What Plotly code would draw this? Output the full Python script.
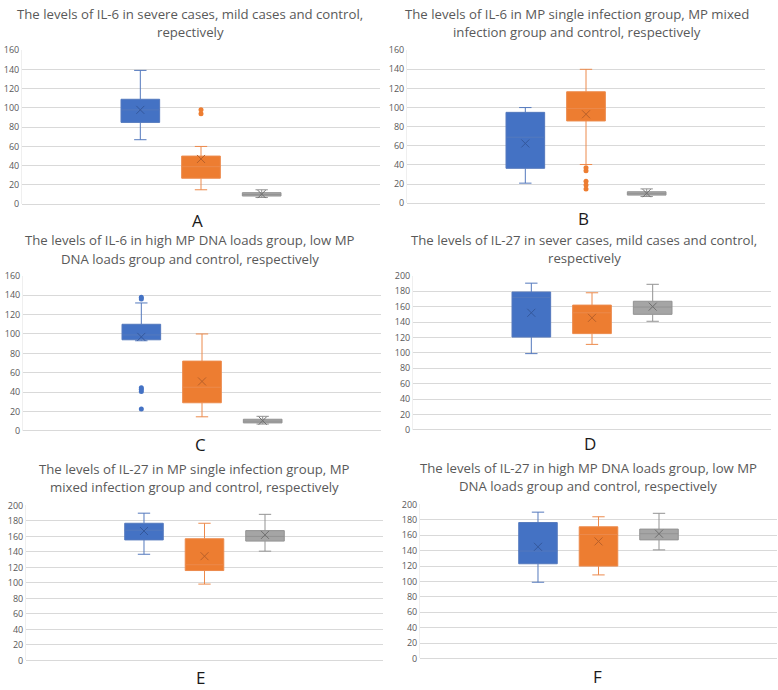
import plotly.graph_objects as go

# three groups in every panel: patients 1, patients 2, control
groups = ["group 1", "group 2", "control"]
fill_colors = ["#4472C4", "#ED7D31", "#A5A5A5"]
line_colors = ["#5479BD", "#EC8A4C", "#939393"]
mean_colors = ["#34589C", "#B8602A", "#6F6F6F"]

letters = ["A", "B", "C", "D", "E", "F"]
titles = [
    ["The levels of IL-6 in severe cases, mild cases and control,", "repectively"],
    ["The levels of IL-6 in MP single infection group, MP mixed", "infection group and control, respectively"],
    ["The levels of IL-6 in high MP DNA loads group, low MP", "DNA loads group and control, respectively"],
    ["The levels of IL-27 in sever cases, mild cases and control,", "respectively"],
    ["The levels of IL-27 in MP single infection group, MP", "mixed infection group and control, respectively"],
    ["The levels of IL-27 in high MP DNA loads group, low MP", "DNA loads group and control, respectively"],
]

# box statistics, one row per panel (A..F)
low = [[67, 15, 7], [21, 40.5, 7], [93, 14.5, 7],
       [99, 111, 141], [137, 98.5, 141], [99, 108.5, 141]]
q1 = [[85, 27, 8.5], [36.5, 86, 8.5], [94, 29, 8.2],
      [120.5, 125, 150], [155.5, 116, 154], [123, 120, 154]]
median = [[98, 39, 10], [69, 99, 10], [99, 45, 10],
          [172, 152, 159.5], [168, 123.5, 160], [139.5, 161, 162]]
q3 = [[109, 50, 12], [95, 116.5, 12], [110, 72, 12],
      [179, 162, 167], [177, 157, 167.5], [176.5, 171, 168]]
high = [[139, 60, 15], [100, 140, 15], [132, 100, 15],
        [190.5, 178, 189], [190, 177, 188.5], [190, 184, 188.5]]
mean = [[98, 47, 10.5], [62.5, 93, 10.5], [97, 51, 10.5],
        [152, 145.5, 160], [167, 134.5, 162], [145, 152, 162]]
outliers = [[[], [94, 98], []],
            [[], [15, 19, 23, 34, 37], []],
            [[22.5, 40.5, 43, 44.5, 136, 138], [], []],
            [[], [], []], [[], [], []], [[], [], []]]
y_max = [160, 160, 160, 200, 200, 200]

W, H = 778, 690
# plot areas in pixels: left, right, top, bottom
plots = [(22, 380, 44, 201), (407, 765, 44, 200), (23, 381, 274, 432),
         (413, 771, 274, 431), (26, 383, 508, 666), (420, 777, 507, 664)]
title_x = [190, 577, 190, 584, 194, 588]
title_y = [(7.5, 25), (7.5, 25), (237, 256.5), (237, 256), (470.5, 489), (470, 488.5)]
letter_pos = [(197, 218), (583, 216), (200, 446), (590, 445), (200, 683), (597, 682)]

fig = go.Figure()
annotations = []
font = "Open Sans"

for p in range(6):
    n = "" if p == 0 else str(p + 1)
    xa, ya = "x" + n, "y" + n
    for g in range(3):
        fig.add_trace(go.Box(
            x=[groups[g]], q1=[q1[p][g]], median=[median[p][g]], q3=[q3[p][g]],
            lowerfence=[low[p][g]], upperfence=[high[p][g]],
            boxpoints=False, whiskerwidth=0.32,
            fillcolor=fill_colors[g], line=dict(color=line_colors[g], width=1),
            xaxis=xa, yaxis=ya, showlegend=False))
        if outliers[p][g]:
            fig.add_trace(go.Scatter(
                x=[groups[g]] * len(outliers[p][g]), y=outliers[p][g], mode="markers",
                marker=dict(symbol="circle", size=5, color=fill_colors[g]),
                xaxis=xa, yaxis=ya, showlegend=False))
    fig.add_trace(go.Scatter(
        x=groups, y=mean[p], mode="markers",
        marker=dict(symbol="x-thin", size=8, line=dict(width=1, color=mean_colors)),
        xaxis=xa, yaxis=ya, showlegend=False))

    l, r, t, b = plots[p]
    fig.update_layout({
        "xaxis" + n: dict(domain=[l / W, r / W], anchor=ya, type="category",
                          categoryorder="array", categoryarray=groups,
                          range=[-1.95, 3.95], showticklabels=False, showgrid=False,
                          showline=False, zeroline=False),
        "yaxis" + n: dict(domain=[1 - b / H, 1 - t / H], anchor=xa, range=[0, y_max[p]],
                          dtick=20, showgrid=True, gridcolor="#D9D9D9", gridwidth=1,
                          zeroline=True, zerolinecolor="#D9D9D9", zerolinewidth=1,
                          showline=True, linecolor="#EFEFEF", linewidth=1, ticks="",
                          tickfont=dict(family=font, size=9, color="#595959")),
    })
    for k, line in enumerate(titles[p]):
        annotations.append(dict(text=line, x=title_x[p] / W, y=1 - title_y[p][k] / H,
                                xref="paper", yref="paper", showarrow=False,
                                xanchor="center", yanchor="middle",
                                font=dict(family=font, size=13.2, color="#595959")))
    annotations.append(dict(text=letters[p], x=letter_pos[p][0] / W, y=1 - letter_pos[p][1] / H,
                            xref="paper", yref="paper", showarrow=False,
                            xanchor="center", yanchor="middle",
                            font=dict(family=font, size=17, color="#1A1A1A")))

fig.update_layout(width=W, height=H, margin=dict(l=0, r=0, t=0, b=0),
                  paper_bgcolor="white", plot_bgcolor="white",
                  boxmode="overlay", boxgap=0.09, annotations=annotations)

# drop the browser's default page margin so the figure sits at the top-left corner
fig.write_html("out.html", config={"displayModeBar": False},
               post_script="document.body.style.margin='0';")
